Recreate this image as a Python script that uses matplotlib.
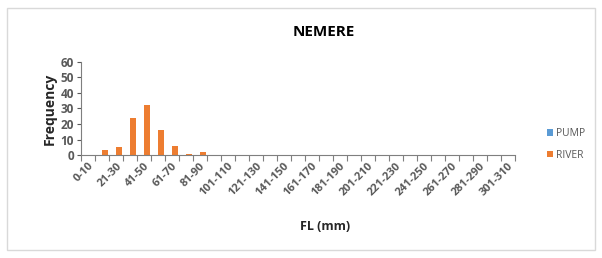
import numpy as np
import matplotlib.pyplot as plt
from matplotlib.patches import Rectangle

plt.rcParams['font.family'] = ['Open Sans', 'DejaVu Sans']

# Data
bins = ['%d-%d' % (1 if i == 0 else i * 10 + 1, i * 10 + 10) for i in range(31)]
bins[0] = '0-10'
pump = [0] * 31
river = [0, 3, 5, 24, 32, 16, 6, 1, 2] + [0] * 22

pump_color = '#5b9bd5'
river_color = '#ed7d31'
grey = '#595959'

fig = plt.figure(figsize=(6.02, 2.58), dpi=100)
fig.patches.append(Rectangle((0.012, 0.03), 0.976, 0.94, transform=fig.transFigure,
                             fill=False, edgecolor='#d9d9d9', linewidth=1))
ax = fig.add_axes([0.1346, 0.399, 0.7205, 0.361])

x = np.arange(len(bins))
w = 0.4
ax.bar(x - w / 2, pump, w, color=pump_color, label='PUMP')
ax.bar(x + w / 2, river, w, color=river_color, label='RIVER')

ax.set_xlim(-0.5, len(bins) - 0.5)
ax.set_ylim(0, 60)
ax.set_yticks(range(0, 61, 10))
ax.tick_params(axis='y', labelsize=8.5, colors=grey, length=3, width=0.8, pad=2)

ax.set_xticks(np.arange(-0.5, len(bins)), minor=True)
ax.set_xticks(x[::2])
ax.set_xticklabels(bins[::2], rotation=45, ha='right', rotation_mode='anchor',
                   fontsize=8, color=grey, fontweight='bold')
ax.tick_params(axis='x', which='major', length=0, pad=4)
ax.tick_params(axis='x', which='minor', length=4, width=0.8, color='#7f7f7f')
for lbl in ax.get_yticklabels():
    lbl.set_fontweight('bold')

for side in ['top', 'right']:
    ax.spines[side].set_visible(False)
ax.spines['left'].set_color('#7f7f7f')
ax.spines['bottom'].set_color('#7f7f7f')

ax.set_ylabel('Frequency', fontsize=10, fontweight='bold', color='#262626', labelpad=3)
fig.text(0.54, 0.124, 'FL (mm)', ha='center', va='center', fontsize=9,
         fontweight='bold', color='#262626')
fig.text(0.537, 0.876, 'NEMERE', ha='center', va='center', fontsize=11,
         fontweight='bold', color='#000000')

ax.legend(loc='center left', bbox_to_anchor=(0.893, 0.44), bbox_transform=fig.transFigure,
          frameon=False, fontsize=7.5, handlelength=0.6, handleheight=0.6,
          handletextpad=0.3, labelspacing=1.0, labelcolor=grey)

fig.savefig('out.png', dpi=100)
